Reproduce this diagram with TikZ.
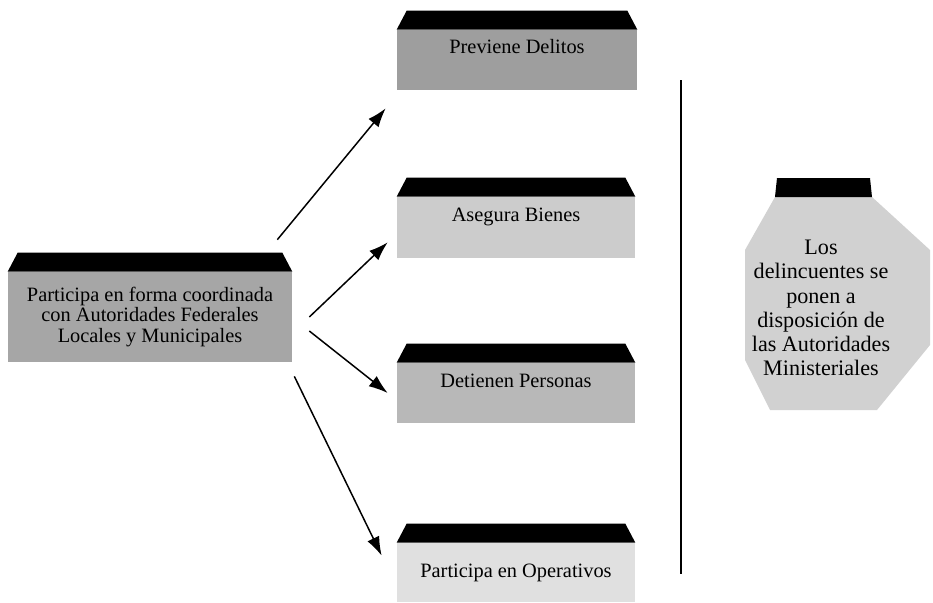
\documentclass[tikz,border=0pt]{standalone}
\usepackage{fontspec}
\setmainfont{Liberation Serif}
\usetikzlibrary{arrows.meta}

\tikzset{
  caja/.style={fill=#1, inner sep=0pt, align=center, font=\fontsize{11.6}{11.4}\selectfont},
  techo/.style={fill=black},
  flecha/.style={-{Latex[length=3.8mm,width=2.6mm]}, line width=0.85pt}
}

\begin{document}
\begin{tikzpicture}[x=0.02cm, y=-0.02cm]
  \useasboundingbox (0,0) rectangle (933,602);

  \node (part) at (150,317)[caja=black!35, minimum width=5.68cm, minimum height=1.8cm]
        {Participa en forma coordinada\\con Autoridades Federales\\Locales y Municipales};
  \node (prev) at (517,60)[caja=black!38, minimum width=4.8cm, minimum height=1.2cm] {Previene Delitos\\[4pt]};
  \node (aseg) at (516,227.5)[caja=black!20, minimum width=4.76cm, minimum height=1.22cm] {Asegura Bienes\\[3pt]};
  \node (det) at (516,393)[caja=black!28, minimum width=4.76cm, minimum height=1.2cm] {Detienen Personas\\[3pt]};
  \node (oper) at (516,572.5)[caja=black!12, minimum width=4.76cm, minimum height=1.18cm] {Participa en Operativos};

  % techos negros
  \foreach \n in {part,prev,aseg,det,oper}
    \fill[techo] (\n.north west) -- ([xshift=0.2cm,yshift=0.38cm]\n.north west)
      -- ([xshift=-0.2cm,yshift=0.38cm]\n.north east) -- (\n.north east) -- cycle;

  % octagono
  \fill[black!18] (775,197) -- (872,197) -- (930,250) -- (930,345) -- (877,410)
    -- (770,410) -- (745,360) -- (745,250) -- cycle;
  \fill[techo] (775,197) -- (777,178) -- (870,178) -- (872,197) -- cycle;
  \node (disp) at (821,308)[align=center, font=\fontsize{12.6}{13.8}\selectfont]
        {Los\\delincuentes se\\ponen a\\disposición de\\las Autoridades\\Ministeriales};

  % separador
  \coordinate (sepA) at (681,80);
  \coordinate (sepB) at (681,574);
  \draw[line width=0.9pt] (sepA) -- (sepB);

  \draw[flecha] ([xshift=-0.3cm,yshift=0.64cm]part.north east) -- ([xshift=-0.22cm,yshift=-0.36cm]prev.south west);
  \draw[flecha] ([xshift=0.34cm]part.east) -- ([xshift=-0.18cm,yshift=0.32cm]aseg.south west);
  \draw[flecha] ([xshift=0.34cm,yshift=-0.28cm]part.east) -- ([xshift=-0.18cm]det.west);
  \draw[flecha] ([xshift=0.04cm,yshift=-0.28cm]part.south east) -- ([xshift=-0.3cm,yshift=-0.26cm]oper.north west);
\end{tikzpicture}
\end{document}
